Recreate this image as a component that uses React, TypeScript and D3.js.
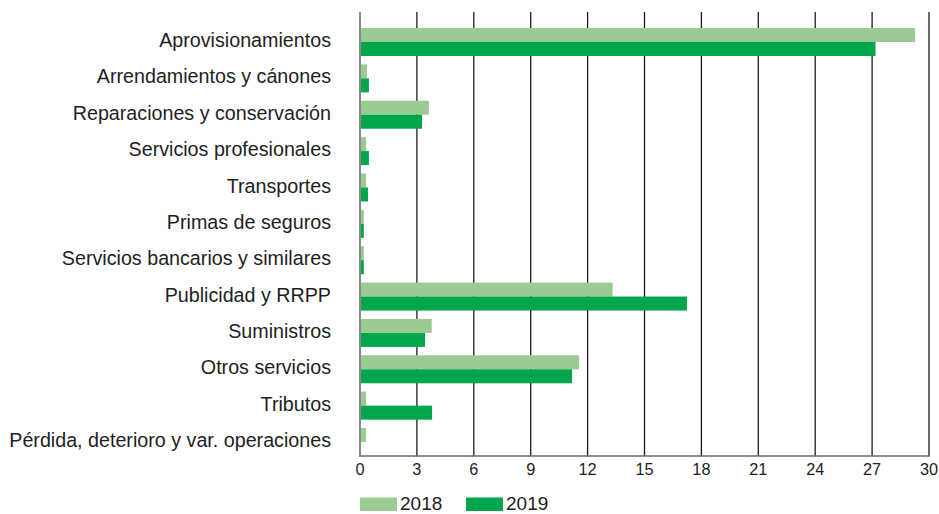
import React from "react";
import * as d3 from "d3";

const categories = [
  "Aprovisionamientos",
  "Arrendamientos y cánones",
  "Reparaciones y conservación",
  "Servicios profesionales",
  "Transportes",
  "Primas de seguros",
  "Servicios bancarios y similares",
  "Publicidad y RRPP",
  "Suministros",
  "Otros servicios",
  "Tributos",
  "Pérdida, deterioro y var. operaciones",
];
const values2018 = [29.26, 0.37, 3.63, 0.32, 0.32, 0.2, 0.2, 13.32, 3.78, 11.55, 0.32, 0.32];
const values2019 = [27.18, 0.47, 3.27, 0.47, 0.42, 0.2, 0.2, 17.24, 3.43, 11.18, 3.8, 0];
const seriesNames = ["2018", "2019"];
const xTicks = [0, 3, 6, 9, 12, 15, 18, 21, 24, 27, 30];

const W = 939;
const H = 514;
const colors = ["#99cb93", "#00a64c"];
const FONT = "'Liberation Sans', Arial, sans-serif";

export default function App() {
  const x = d3.scaleLinear().domain([0, 30]).range([360, 929]);
  const y = d3.scaleBand<string>().domain(categories).range([23.8, 460.2]).paddingInner(0.23).paddingOuter(0.115);
  const sub = d3.scaleBand<string>().domain(seriesNames).range([0, y.bandwidth()]);
  const series = [values2018, values2019];
  const gridTop = 12;
  const axisY = 456;

  return (
    <svg width={W} height={H} style={{ position: "absolute", left: 0, top: 0, background: "#fff" }}>
      {xTicks.map((t) => (
        <line key={"g" + t} x1={x(t)} x2={x(t)} y1={gridTop} y2={axisY} stroke={t === 0 ? "#8a8a8a" : "#1a1a1a"} strokeWidth={t === 0 ? 2 : 1.3} />
      ))}
      {categories.map((c, i) => (
        <g key={c}>
          {series.map((vals, s) => (
            <rect
              key={s}
              x={x(0) + 1}
              y={(y(c) as number) + (sub(seriesNames[s]) as number)}
              width={Math.max(0, x(vals[i]) - x(0) - 1)}
              height={sub.bandwidth()}
              fill={colors[s]}
            />
          ))}
          <text
            x={331}
            y={(y(c) as number) + y.bandwidth() / 2 - 2}
            dy="0.36em"
            textAnchor="end"
            fontFamily={FONT}
            fontSize={19.7}
            fill="#1e1e1e"
          >
            {c}
          </text>
        </g>
      ))}
      <line x1={x(0) - 1} x2={x(30) + 1} y1={axisY} y2={axisY} stroke="#6a6a6a" strokeWidth={1.5} />
      {xTicks.map((t) => (
        <text key={"t" + t} x={x(t)} y={475} textAnchor="middle" fontFamily={FONT} fontSize={16.3} fill="#1e1e1e">
          {t}
        </text>
      ))}
      {seriesNames.map((n, s) => (
        <g key={n} transform={`translate(${360 + s * 106},0)`}>
          <rect x={0} y={497.5} width={37} height={13.5} fill={colors[s]} />
          <text x={40} y={510} fontFamily={FONT} fontSize={19} fill="#1e1e1e">
            {n}
          </text>
        </g>
      ))}
    </svg>
  );
}
